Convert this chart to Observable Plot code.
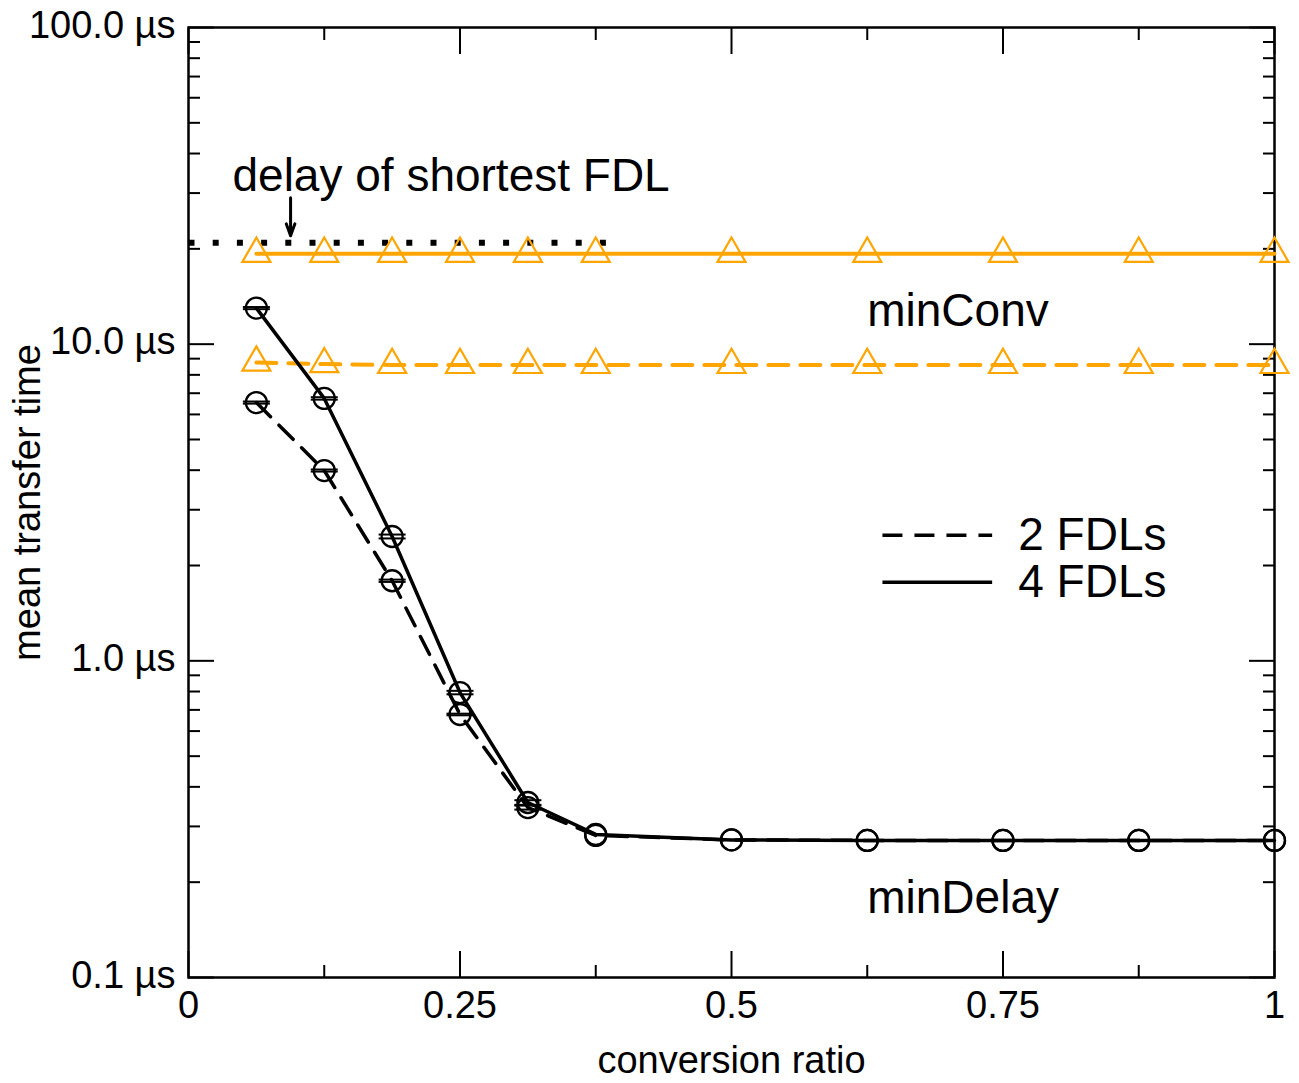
<!DOCTYPE html>
<html><head><meta charset="utf-8">
<script src="https://cdn.jsdelivr.net/npm/d3@7"></script>
<script src="https://cdn.jsdelivr.net/npm/@observablehq/plot@0.6"></script>
<style>body{margin:0;background:#fff} svg{display:block}</style>
</head><body><div id="chart"></div>
<script>
// ---- data ----
const ratio = [0.0625, 0.125, 0.1875, 0.25, 0.3125, 0.375, 0.5, 0.625, 0.75, 0.875, 1];
const minDelay4 = [13.0, 6.74, 2.47, 0.794, 0.357, 0.283, 0.272, 0.271, 0.271, 0.271, 0.271];
const minDelay2 = [6.54, 3.99, 1.79, 0.677, 0.344, 0.281, 0.272, 0.271, 0.271, 0.271, 0.271];
const ci4 = [0.1, 0.06, 0.035, 0.01, 0.006, null, null, null, null, null, null];
const ci2 = [0.05, 0.03, 0.015, 0.004, 0.005, null, null, null, null, null, null];
const minConv4 = [19.3, 19.3, 19.3, 19.3, 19.3, 19.3, 19.3, 19.3, 19.3, 19.3, 19.3];
const minConv2 = [8.75, 8.65, 8.6, 8.6, 8.6, 8.6, 8.6, 8.6, 8.6, 8.6, 8.6];
const shortestFdlDelay = 20.9;
const shortestFdlRange = [0, 0.392];

const yMajor = [0.1, 1, 10, 100];
const yLabels = ["0.1 µs", "1.0 µs", "10.0 µs", "100.0 µs"];
const yMinor = [0.2, 0.3, 0.4, 0.5, 0.6, 0.7, 0.8, 0.9, 2, 3, 4, 5, 6, 7, 8, 9, 20, 30, 40, 50, 60, 70, 80, 90];
const xMajor = [0, 0.25, 0.5, 0.75, 1];
const xLabels = ["0", "0.25", "0.5", "0.75", "1"];
const xMinor = [0.125, 0.375, 0.625, 0.875];

const seriesNames = ["2 FDLs", "4 FDLs"];
const annotations = [
  {x: 0.0405, y: 33.8, text: "delay of shortest FDL"},
  {x: 0.625, y: 12.7, text: "minConv"},
  {x: 0.625, y: 0.1776, text: "minDelay"}
];
const arrowPos = {x: 0.094, y1: 29.0, y2: 22.0};
const legendLineX = [0.639, 0.740];
const legendTextX = 0.764;
const legendY = [2.49, 1.77];

// ---- derived tables ----
const rows = (vals) => ratio.map((x, i) => ({x, y: vals[i]}));
const capRows = (vals, ci) => ratio.flatMap((x, i) => ci[i] == null ? [] :
  [{x, y: vals[i] - ci[i]}, {x, y: vals[i] + ci[i]}]);
const legendRows = seriesNames.map((name, i) => ({name, x1: legendLineX[0], x2: legendLineX[1], tx: legendTextX, y: legendY[i]}));
const hline = {draw(ctx, size) { const r = Math.sqrt(size / Math.PI); ctx.moveTo(-r, 0); ctx.lineTo(r, 0); }};
const orange = "#FFA500";
const dash = "20,12";

const chart = Plot.plot({
  width: 1299, height: 1083,
  marginLeft: 188, marginRight: 25, marginTop: 27, marginBottom: 106,
  style: {fontFamily: "'Liberation Sans', Arial, Helvetica, sans-serif", fontSize: "38px", color: "black", background: "white"},
  x: {domain: [0, 1]},
  y: {type: "log", domain: [0.1, 100]},
  marks: [
    // ticks (inward)
    Plot.axisY(yMajor, {anchor: "left", tickSize: -26, strokeWidth: 2, tickFormat: () => null, label: null}),
    Plot.axisY(yMinor, {anchor: "left", tickSize: -12, strokeWidth: 2, tickFormat: () => null, label: null}),
    Plot.axisY(yMajor, {anchor: "right", tickSize: -26, strokeWidth: 2, tickFormat: () => null, label: null}),
    Plot.axisY(yMinor, {anchor: "right", tickSize: -12, strokeWidth: 2, tickFormat: () => null, label: null}),
    Plot.axisX(xMajor, {anchor: "bottom", tickSize: -26, strokeWidth: 2, tickFormat: () => null, label: null}),
    Plot.axisX(xMinor, {anchor: "bottom", tickSize: -12, strokeWidth: 2, tickFormat: () => null, label: null}),
    Plot.axisX(xMajor, {anchor: "top", tickSize: -26, strokeWidth: 2, tickFormat: () => null, label: null}),
    Plot.axisX(xMinor, {anchor: "top", tickSize: -12, strokeWidth: 2, tickFormat: () => null, label: null}),
    // tick labels
    Plot.axisY(yMajor, {anchor: "left", tickSize: 0, tickPadding: 13, dy: -2, fontSize: 38,
      tickFormat: d => yLabels[yMajor.indexOf(d)], label: null}),
    Plot.axisX(xMajor, {anchor: "bottom", tickSize: 0, tickPadding: 14, fontSize: 38,
      tickFormat: d => xLabels[xMajor.indexOf(d)], label: null}),
    // axis titles
    Plot.text(["conversion ratio"], {frameAnchor: "bottom", dy: 83, lineAnchor: "middle", textAnchor: "middle", fontSize: 38}),
    Plot.text(["mean transfer time"], {frameAnchor: "left", dx: -161, rotate: -90, textAnchor: "middle", lineAnchor: "middle", fontSize: 38}),
    Plot.frame({stroke: "black", strokeWidth: 2.5}),
    // shortest FDL delay (dotted)
    Plot.link([0], {x1: () => shortestFdlRange[0], x2: () => shortestFdlRange[1],
      y1: () => shortestFdlDelay, y2: () => shortestFdlDelay,
      stroke: "black", strokeWidth: 6, strokeDasharray: "6,18.2"}),
    // minConv
    Plot.line(rows(minConv4), {x: "x", y: "y", stroke: orange, strokeWidth: 4}),
    Plot.line(rows(minConv2), {x: "x", y: "y", stroke: orange, strokeWidth: 4, strokeDasharray: dash}),
    Plot.dot(rows(minConv4), {x: "x", y: "y", symbol: "triangle", r: 10.4, stroke: orange, strokeWidth: 2.2, fill: "none"}),
    Plot.dot(rows(minConv2), {x: "x", y: "y", symbol: "triangle", r: 10.4, stroke: orange, strokeWidth: 2.2, fill: "none"}),
    // minDelay
    Plot.line(rows(minDelay2), {x: "x", y: "y", stroke: "black", strokeWidth: 3.5, strokeDasharray: dash}),
    Plot.line(rows(minDelay4), {x: "x", y: "y", stroke: "black", strokeWidth: 3.5}),
    Plot.dot(rows(minDelay2), {x: "x", y: "y", r: 10.5, stroke: "black", strokeWidth: 2.3, fill: "none"}),
    Plot.dot(rows(minDelay4), {x: "x", y: "y", r: 10.5, stroke: "black", strokeWidth: 2.3, fill: "none"}),
    Plot.dot(capRows(minDelay2, ci2), {x: "x", y: "y", symbol: hline, r: 13.5, stroke: "black", strokeWidth: 2}),
    Plot.dot(capRows(minDelay4, ci4), {x: "x", y: "y", symbol: hline, r: 13.5, stroke: "black", strokeWidth: 2}),
    // annotations
    Plot.text(annotations, {x: "x", y: "y", text: "text", textAnchor: "start", fontSize: 46}),
    Plot.arrow([arrowPos], {x1: "x", x2: "x", y1: "y1", y2: "y2", stroke: "black", strokeWidth: 3, headLength: 16, headAngle: 40}),
    // legend
    Plot.link(legendRows.slice(0, 1), {x1: "x1", x2: "x2", y1: "y", y2: "y", stroke: "black", strokeWidth: 3.5, strokeDasharray: dash}),
    Plot.link(legendRows.slice(1), {x1: "x1", x2: "x2", y1: "y", y2: "y", stroke: "black", strokeWidth: 3.5}),
    Plot.text(legendRows, {x: "tx", y: "y", text: "name", textAnchor: "start", fontSize: 46})
  ]
});
document.getElementById("chart").appendChild(chart);
</script>
</body></html>
